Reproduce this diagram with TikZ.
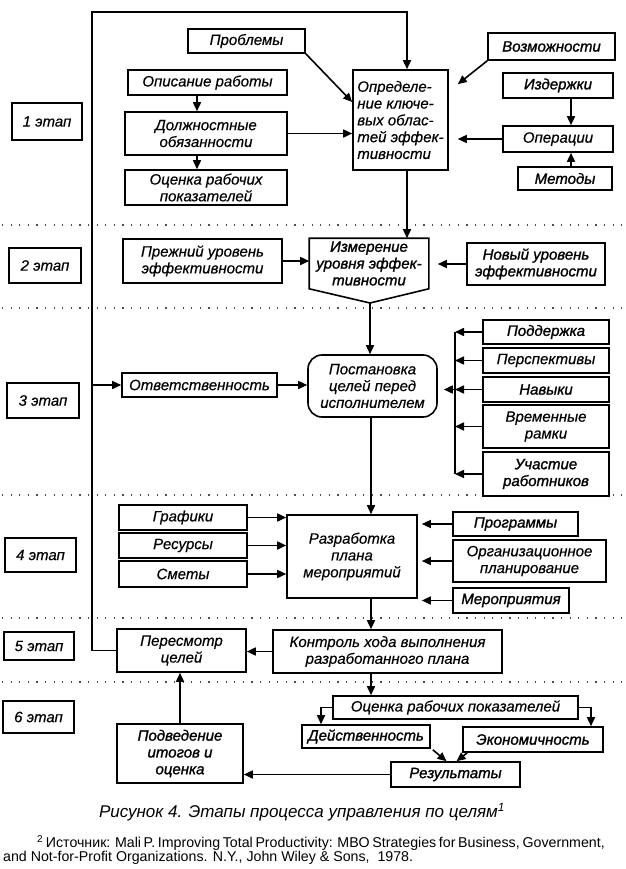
\documentclass[tikz,border=0pt]{standalone}
\usepackage{fontspec}
\setmainfont{Liberation Sans}
\newfontfamily\boxfont[ItalicFeatures={FakeBold=0.4}]{Liberation Sans}
\newfontfamily\boxfontb[ItalicFeatures={FakeBold=1.3}]{Liberation Sans}
\usetikzlibrary{arrows.meta,calc}

\tikzset{
  bx/.style={draw, line width=1.6pt, fill=white, inner sep=0pt, align=center,
             font=\fontsize{15}{16.8}\boxfont\itshape},
  bb/.style={font=\fontsize{15}{16.8}\boxfontb\itshape},
  arr/.style={line width=1.6pt, -{Triangle[length=9pt,width=8pt]}},
  ln/.style={line width=1.6pt},
  sepline/.style={line width=1.1pt, dash pattern=on 1.1pt off 7.5pt, black!70},
}
\newcommand\bnode[7][]{%
  \node[bx,#1,minimum width={(#5-#3)*1pt},minimum height={(#6-#4)*1pt}] (#2) at ({(#3+#5)/2},{(#4+#6)/2}) {#7};}

\begin{document}
\begin{tikzpicture}[x=1pt,y=-1pt]
\useasboundingbox (0,0) rectangle (625,869);
\fill[white] (0,0) rectangle (625,869);

\foreach \yy in {225,308,495,618,682} \draw[sepline] (2,\yy) -- (622,\yy);

% stage labels
\bnode{s1}{12}{103}{82}{140}{1 этап}
\bnode{s2}{9}{248}{81}{283}{2 этап}
\bnode{s3}{7}{383}{79}{418}{3 этап}
\bnode{s4}{5}{538}{76}{572}{4 этап}
\bnode{s5}{4}{632}{74}{660}{5 этап}
\bnode{s6}{3}{701}{74}{733}{6 этап}

% stage 1
\bnode{prob}{188}{29}{305}{53}{Проблемы}
\bnode{opis}{128}{70}{287}{95}{Описание работы}
\bnode{dolzh}{125}{112}{287}{155}{Должностные\\обязанности}
\bnode{ocen1}{125}{170}{287}{205}{Оценка рабочих\\показателей}
\bnode[align=left]{opr}{353}{70}{448}{170}{Определе-\\ние ключе-\\вых облас-\\тей эффек-\\тивности}
\bnode[bb]{vozm}{488}{33}{615}{60}{Возможности}
\bnode[bb]{izd}{503}{73}{613}{98}{Издержки}
\bnode{oper}{503}{126}{613}{152}{Операции}
\bnode[bb]{met}{518}{167}{612}{190}{Методы}

% stage 2
\bnode{prezh}{123}{239}{282}{283}{Прежний уровень\\эффективности}
\bnode[draw=none,bb]{izm}{310}{239}{428}{288}{Измерение\\уровня эффек-\\тивности}
\coordinate (izmtip) at (370,303);
\draw[ln] (izm.north west) -- (izm.north east) -- (izm.south east) -- (izmtip) -- (izm.south west) -- cycle;
\bnode[bb]{novy}{467}{243}{605}{285}{Новый уровень\\эффективности}

% stage 3
\bnode{otv}{122}{373}{277}{397}{Ответственность}
\bnode[rounded corners=14pt]{post}{308}{355}{437}{417}{Постановка\\целей перед\\исполнителем}
\bnode[bb]{podd}{483}{320}{609}{344}{Поддержка}
\bnode{persp}{483}{348}{609}{373}{Перспективы}
\bnode[bb]{nav}{483}{377}{609}{402}{Навыки}
\bnode{vrem}{483}{405}{609}{448}{Временные\\рамки}
\bnode[bb]{uch}{483}{452}{609}{496}{Участие\\работников}

% stage 4
\bnode{graf}{119}{505}{247}{530}{Графики}
\bnode{res}{119}{533}{247}{558}{Ресурсы}
\bnode{smet}{119}{561}{247}{587}{Сметы}
\bnode{razr}{287}{515}{417}{598}{Разработка\\плана\\мероприятий}
\bnode[bb]{prog}{453}{512}{578}{536}{Программы}
\bnode{org}{453}{540}{606}{582}{Организационное\\планирование}
\bnode[bb]{mer}{453}{588}{569}{613}{Мероприятия}

% stage 5
\bnode{peres}{117}{629}{246}{672}{Пересмотр\\целей}
\bnode{kontr}{273}{630}{502}{673}{Контроль хода выполнения\\разработанного плана}

% stage 6
\bnode{ocen2}{333}{696}{578}{719}{Оценка рабочих показателей}
\bnode[bb]{deistv}{302}{725}{430}{748}{Действенность}
\bnode[bb]{ekon}{463}{727}{603}{752}{Экономичность}
\bnode[bb]{rez}{391}{762}{520}{787}{Результаты}
\bnode[bb]{podv}{117}{724}{243}{783}{Подведение\\итогов и\\оценка}

% helper axes
\coordinate (lx) at (92,12);
\coordinate (ax) at (371,0);
\coordinate (vx) at (407,0);
\coordinate (bar) at (455,0);
\coordinate (ox) at (571,0);
\coordinate (dx) at (197,0);
\coordinate (dl) at (321,0);
\coordinate (er) at (591,0);

% connectors
\draw[arr] (peres.west) -| (lx) -| (opr.north -| vx);
\draw[arr] (otv.west -| lx) -- (otv.west);
\draw[arr] (prob.south east) -- ([yshift=18pt]opr.west);
\draw[arr] (vozm.south west) -- ($(opr.north east)+(9,15)$);
\draw[arr] (dolzh.east) -- (dolzh.east -| opr.west);
\draw[arr] (opis.south -| dx) -- (dolzh.north -| dx);
\draw[arr] (dolzh.south -| dx) -- (ocen1.north -| dx);
\draw[arr] (izd.south -| ox) -- (oper.north -| ox);
\draw[arr] (met.north -| ox) -- (oper.south -| ox);
\draw[arr] (oper.west) -- ($(oper.west -| opr.east)+(9,0)$);
\draw[arr] (opr.south -| vx) -- (izm.north -| vx);
\draw[arr] (prezh.east) -- (prezh.east -| izm.west);
\draw[arr] (novy.west) -- ($(novy.west -| izm.east)+(9,0)$);
\draw[arr] (izmtip) -- (izmtip |- post.north);
\draw[arr] (otv.east) -- (otv.east -| post.west);
\foreach \n in {podd,persp,nav,vrem,uch} \draw[arr] (\n.west) -- (\n.west -| bar);
\draw[ln] (podd.west -| bar) -- (uch.west -| bar);
\draw[arr] (nav.west -| bar) -- ($(nav.west -| post.east)+(6,0)$);
\draw[arr] (post.south -| ax) -- (razr.north -| ax);
\foreach \n in {graf,res,smet} \draw[arr] (\n.east) -- (\n.east -| razr.west);
\foreach \n in {prog,org,mer} \draw[arr] (\n.west) -- ($(\n.west -| razr.east)+(4,0)$);
\draw[arr] (razr.south -| ax) -- (kontr.north -| ax);
\draw[arr] (kontr.west) -- (kontr.west -| peres.east);
\draw[arr] (kontr.south -| ax) -- (ocen2.north -| ax);
\draw[arr] (ocen2.west) -| (deistv.north -| dl);
\draw[arr] (ocen2.east) -| (ekon.north -| er);
\draw[arr] ($(deistv.south east)+(2,1)$) -- ($(rez.north)+(-9,0)$);
\draw[arr] ($(ekon.south west)+(5,0)$) -- ($(rez.north)+(1,0)$);
\draw[arr] (rez.west) -- (rez.west -| podv.east);
\draw[arr] (podv.north) -- (podv.north |- peres.south);

% caption and source
\node[font=\fontsize{17}{20}\selectfont\itshape, inner sep=0pt] (cap) at (302,812)
  {Рисунок 4. Этапы процесса управления по целям\textsuperscript{1}};
\node[anchor=west, font=\fontsize{14.2}{16}\selectfont, inner sep=0pt] (fn1) at (37,843)
  {\makebox[566pt][s]{\textsuperscript{2} Источник: Mali P. Improving Total Productivity: MBO Strategies for Business, Government,}};
\node[anchor=west, font=\fontsize{14.2}{16}\selectfont, inner sep=0pt] (fn2) at (3,858)
  {and Not-for-Profit Organizations. N.Y., John Wiley \& Sons,\ \ 1978.};
\end{tikzpicture}
\end{document}
